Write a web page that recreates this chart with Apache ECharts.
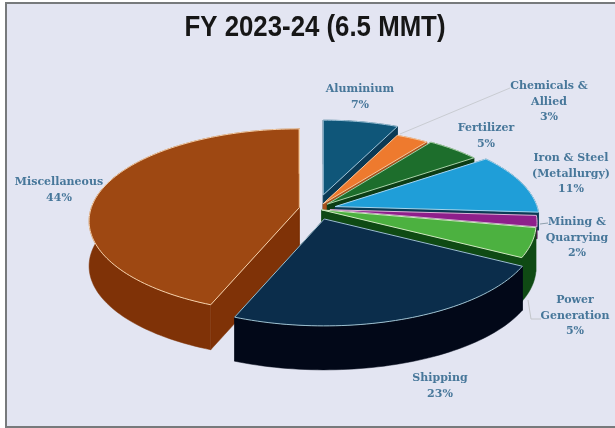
<!DOCTYPE html>
<html>
<head>
<meta charset="utf-8">
<style>
  html, body { margin: 0; padding: 0; background: #fff; }
  #chart { width: 615px; height: 428px; }
</style>
<script src="https://cdn.jsdelivr.net/npm/echarts@6/dist/echarts.min.js"></script>
</head>
<body>
<div id="chart"></div>
<script>
const titleText = 'FY 2023-24 (6.5 MMT)';
const categories = ['Aluminium', 'Chemicals &\nAllied', 'Fertilizer', 'Iron & Steel\n(Metallurgy)', 'Mining &\nQuarrying', 'Power\nGeneration', 'Shipping', 'Miscellaneous'];
const shares = [7, 3, 5, 11, 2, 5, 23, 44];

// styling per slice, same order as categories
const topColors = ['#0f5679', '#ee7a2e', '#1d6e2c', '#1f9ed8', '#8e1f8b', '#4cb140', '#0b2d4b', '#9e4812'];
const wallColors = ['#0b3a55', '#a8521c', '#0c3d15', '#0a3a55', '#53104f', '#0f4a14', '#020818', '#7f3207'];
const edgeColors = ['#9fc3d8', '#f6c9a0', '#a9d3a9', '#a5d5ee', '#d9b5d8', '#cfe8c0', '#9cc0d0', '#f5cfa8'];
const explode = [34, 14, 16, 20, 14, 6, 24, 17];
const radius = [196, 196, 196, 202, 205, 212, 210, 208];
const wallDepth = [44, 44, 44, 18, 12, 44, 44, 45];
const labelAt = [[360, 97], [549, 102], [486, 136], [571, 174], [577, 238], [575, 316], [440, 386], [59, 190]];

// the pie is a tilted disc, seen with a bit of perspective
const centerX = 316, centerY = 209;
const tilt = 0.434, persp = 0.149;

function project(ox, oy, angle, r) {
  const s = 1 / (1 + persp * Math.cos(angle) * (r / 212));
  return [ox + r * Math.sin(angle) * s, oy - tilt * r * Math.cos(angle) * s];
}

function down(points, h) {
  return points.map(p => [p[0], p[1] + h]);
}

const total = shares.reduce((a, b) => a + b, 0);
let running = 0;
const rows = shares.map((v, i) => {
  const row = [i, running, v];
  running += v;
  return row;
});
// misc has to be painted before shipping
const paintOrder = [0, 1, 2, 3, 4, 5, 7, 6];

function renderSlice(params, api) {
  const i = api.value(0);
  const start = api.value(1) / total * Math.PI * 2;
  const end = start + api.value(2) / total * Math.PI * 2;
  const apex = project(centerX, centerY, (start + end) / 2, explode[i]);
  const r = radius[i];
  const h = wallDepth[i];

  const rim = [];
  const steps = Math.max(4, Math.round((end - start) * 40));
  for (let k = 0; k <= steps; k++) {
    rim.push(project(apex[0], apex[1], start + (end - start) * k / steps, r));
  }

  const wallStyle = { fill: wallColors[i], stroke: wallColors[i], lineWidth: 0.5 };
  const first = rim[0], last = rim[rim.length - 1];
  const children = [
    { type: 'polygon', shape: { points: [apex, first].concat(down([first, apex], h)) }, style: wallStyle },
    { type: 'polygon', shape: { points: [apex, last].concat(down([last, apex], h)) }, style: wallStyle },
    { type: 'polygon', shape: { points: rim.concat(down(rim, h).reverse()) }, style: wallStyle },
    { type: 'polygon', shape: { points: [apex].concat(rim) }, style: { fill: topColors[i], stroke: edgeColors[i], lineWidth: 1 } }
  ];
  // pale corner line where the cut meets the rim on the big front slice
  if (i === 7) {
    children.push({ type: 'line', shape: { x1: last[0], y1: last[1], x2: last[0], y2: last[1] + h }, style: { stroke: edgeColors[i], lineWidth: 1.2 } });
  }
  return { type: 'group', children: children };
}

const labelFont = '"DejaVu Serif", serif';
const labelColor = '#47779a';
const graphics = [
  { type: 'rect', z: 0, shape: { x: 6, y: 3, width: 612, height: 424 }, style: { fill: '#e3e5f2', stroke: '#777a7c', lineWidth: 2 } },
  { type: 'polyline', z: 1, shape: { points: [[400, 134], [510, 88]] }, style: { stroke: '#c9ccd2', fill: null, lineWidth: 1 } },
  { type: 'polyline', z: 1, shape: { points: [[540, 224], [548, 223]] }, style: { stroke: '#8fa0ad', fill: null, lineWidth: 1 } },
  { type: 'polyline', z: 1, shape: { points: [[528, 300], [531, 319], [541, 319]] }, style: { stroke: '#c3c6ca', fill: null, lineWidth: 1 } },
  // no narrow font here, so squeeze the bold sans to the width of the headline
  { type: 'text', z: 5, x: 315, y: 28, scaleX: 0.86, style: { x: 0, y: 0, text: titleText, align: 'center', verticalAlign: 'middle', fill: '#161616', font: 'bold 30px "Liberation Sans", sans-serif' } }
];
categories.forEach((name, i) => {
  graphics.push({
    type: 'text', z: 5,
    style: {
      x: labelAt[i][0], y: labelAt[i][1],
      text: name + '\n' + shares[i] + '%',
      align: 'center', verticalAlign: 'middle',
      lineHeight: 15.5, fill: labelColor,
      font: 'bold 11px ' + labelFont
    }
  });
});

const chart = echarts.init(document.getElementById('chart'), null, { renderer: 'canvas' });
chart.setOption({
  animation: false,
  backgroundColor: '#ffffff',
  graphic: { elements: graphics },
  series: [{
    type: 'custom',
    coordinateSystem: 'none',
    z: 3,
    clip: false,
    silent: true,
    renderItem: renderSlice,
    data: paintOrder.map(i => rows[i])
  }]
});
</script>
</body>
</html>
